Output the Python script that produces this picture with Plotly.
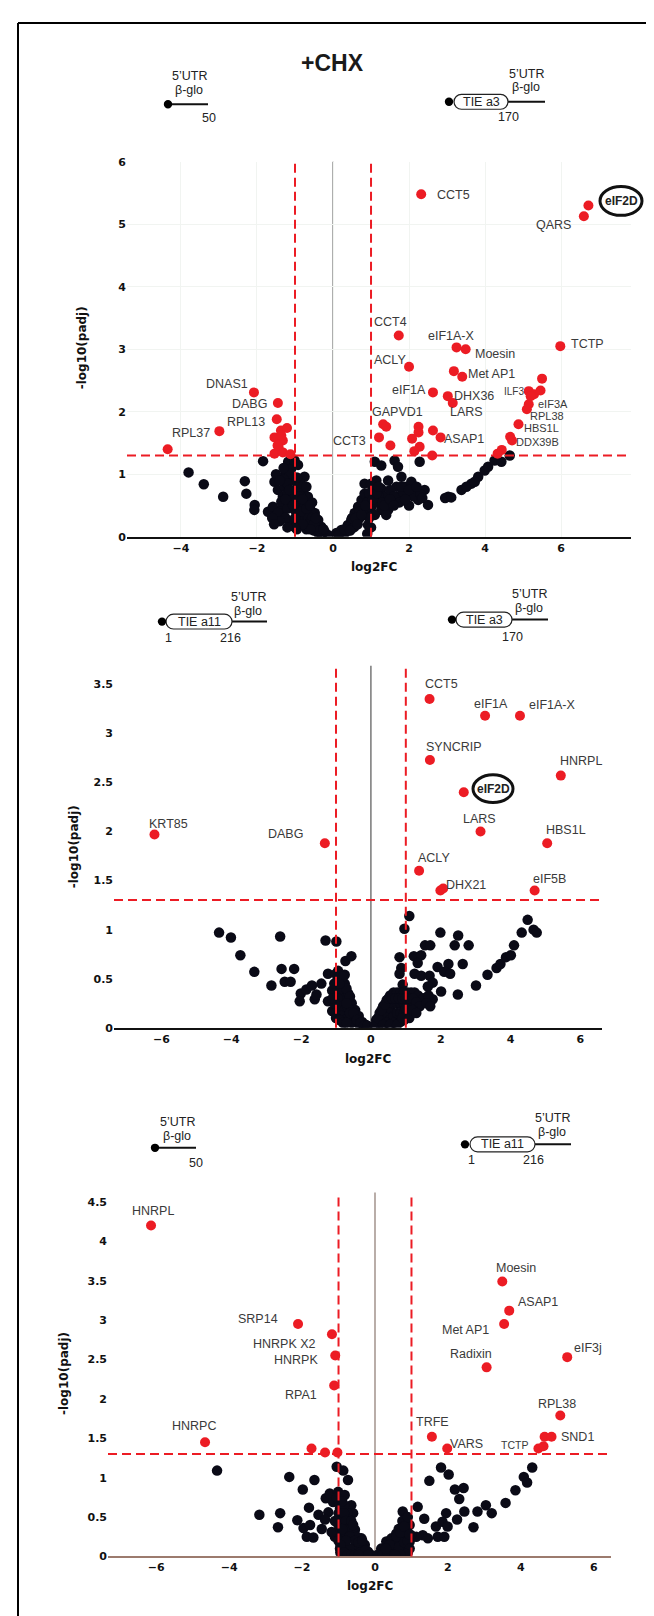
import plotly.graph_objects as go

W, H = 654, 1616

# ---------------- Panel 1 (TIE a3 vs 5'UTR) ----------------
p1_ns_x = [-1.84, -3.80, -3.40, -2.89, -2.32, -2.28, -2.06, -2.07, -1.71,
           -1.54, -1.45, -1.27, -1.32, -1.58, -1.36, -1.18, -1.10, -1.05, -1.01, -1.10,
           -1.01, -0.88, -0.75, -0.79, -0.66, -0.61, -0.48, -0.39, -0.31, -0.22, -0.13,
           -0.39, -0.57, -0.79, -0.92, -0.92, -1.14, -1.27, -1.36, -1.45, -1.14, -1.01,
           -0.85, -0.70, -0.55, -0.95, -0.70, -0.50, -0.30, -0.92, -1.20, -1.05, -0.95,
           -0.85, -0.75, -0.65, -0.55, -0.45, -0.85, -1.20, -1.25, -1.00, -0.70, -1.30,
           -1.20, -1.50, -1.40, -1.30, -1.25, -1.15, -1.05, -0.95, -0.90, -0.80, -0.70,
           -0.60, -0.50, -0.45, -0.35, -0.25, -0.60, -0.80, -1.00, -1.20, -1.40, -1.60,
           -1.55,
           0.09, 0.22, 0.39, 0.48, 0.57, 0.66, 0.75, 0.83, 0.83, 0.92, 0.88, 1.10, 1.27,
           1.14, 1.27, 1.36, 1.27, 1.45, 1.62, 1.71, 1.80, 1.89, 2.06, 2.15, 2.28, 2.24,
           2.41, 2.50, 1.97, 1.71, 1.54, 1.45, 1.01, 0.96, 1.05, 1.67, 1.84, 0.30, 0.55,
           0.70, 0.80, 1.15, 2.00, 1.10, 0.40, 0.60, 0.70, 0.90, 0.95, 1.20, 1.30, 1.50,
           1.60, 1.75, 2.10, 2.30, 1.90, 1.40, 0.15, 0.30, 0.45, 0.50, 0.60, 0.65, 0.75,
           0.85, 0.95, 1.00, 1.05, 1.15, 1.20, 1.35, 1.50, 1.60, 1.80, 2.00, 2.20, 2.35,
           1.00, 0.90,
           3.03, 3.38, 3.64, 3.82, 3.99, 4.08, 4.25, 4.43, 4.65, 3.51, 3.73, 2.95, 3.11]
p1_ns_y = [1.21, 1.03, 0.84, 0.64, 0.89, 0.69, 0.51, 0.43, 0.40,
           0.88, 0.75, 0.98, 0.64, 0.48, 0.43, 1.20, 1.09, 0.90, 0.75, 0.59,
           0.43, 0.53, 0.96, 0.72, 0.64, 0.43, 0.38, 0.27, 0.16, 0.08, 0.03,
           0.06, 0.22, 0.32, 0.27, 0.80, 1.01, 0.80, 0.56, 0.38, 0.22, 1.22,
           0.85, 0.80, 0.55, 0.12, 0.12, 0.10, 0.02, 1.15, 0.70, 0.65, 0.58,
           0.65, 0.50, 0.30, 0.30, 0.20, 0.40, 0.45, 0.30, 0.30, 0.20, 0.92,
           0.85, 1.00, 0.90, 1.10, 0.60, 0.75, 0.50, 0.95, 0.65, 0.60, 0.45,
           0.50, 0.20, 0.30, 0.10, 0.12, 0.12, 0.20, 0.15, 0.15, 0.25, 0.30,
           0.20,
           0.06, 0.11, 0.19, 0.27, 0.38, 0.48, 0.59, 0.69, 0.85, 0.19, 0.43, 1.20, 1.14,
           0.90, 0.77, 0.64, 0.43, 0.90, 1.22, 1.12, 0.96, 0.80, 0.88, 0.75, 1.20, 0.59,
           0.75, 0.51, 0.69, 0.64, 0.53, 0.43, 0.48, 0.61, 0.74, 0.80, 0.72, 0.05, 0.15,
           0.30, 0.35, 0.55, 0.50, 0.35, 0.10, 0.20, 0.40, 0.55, 0.30, 0.65, 0.55, 0.75,
           0.65, 0.55, 0.65, 0.68, 0.60, 0.35, 0.03, 0.12, 0.10, 0.30, 0.30, 0.20, 0.35,
           0.50, 0.70, 0.85, 0.60, 0.70, 0.80, 0.50, 0.60, 0.50, 0.80, 0.75, 0.80, 0.62,
           0.15, 0.05,
           0.64, 0.75, 0.85, 0.96, 1.06, 1.12, 1.22, 1.20, 1.30, 0.80, 0.88, 0.62, 0.63]
p1_sig_x = [-2.08, -1.45, -1.48, -2.99, -4.35, -1.37, -1.21, -1.54, -1.32, -1.43, -1.54,
            -1.32, -1.12, -1.36, -1.46,
            2.32, 6.72, 6.60, 1.73, 3.25, 3.49, 5.98, 2.00, 3.18, 3.40, 5.50, 2.63, 3.02,
            3.15, 5.15, 5.29, 5.46, 5.20, 5.15, 5.10, 4.88, 4.66, 4.71, 4.44, 4.33, 1.32,
            1.40, 1.21, 1.51, 2.25, 2.25, 2.08, 2.28, 2.14, 2.63, 2.83, 2.61]
p1_sig_y = [2.31, 2.14, 1.88, 1.69, 1.40, 1.70, 1.74, 1.59, 1.54, 1.43, 1.33,
            1.35, 1.32, 1.62, 1.46,
            5.48, 5.30, 5.13, 3.22, 3.03, 3.00, 3.05, 2.72, 2.65, 2.56, 2.53, 2.31, 2.25,
            2.14, 2.33, 2.28, 2.34, 2.25, 2.12, 2.04, 1.80, 1.60, 1.54, 1.39, 1.33, 1.80,
            1.76, 1.59, 1.46, 1.76, 1.67, 1.57, 1.44, 1.37, 1.70, 1.59, 1.30]
p1_labels = ["DNAS1", "DABG", "RPL13", "RPL37", "CCT3", "GAPVD1", "ASAP1", "LARS",
             "DHX36", "eIF1A", "Met AP1", "Moesin", "ACLY", "ILF3", "eIF3A", "RPL38",
             "HBS1L", "DDX39B", "CCT5", "QARS", "CCT4", "eIF1A-X", "TCTP"]

# ---------------- Panel 2 (TIE a3 vs TIE a11) ----------------
p2_ns_x = [-4.35, -4.01, -3.74, -3.34, -2.85, -2.60, -2.56, -2.20, -2.47, -2.30, -2.01,
           -2.04, -1.85, -1.69, -1.61, -1.56, -1.42, -1.30, -1.23, -1.23, -1.11, -1.11,
           -0.99, -0.94, -0.75, -0.73, -0.56,
           -0.95, -0.85, -0.75, -0.95, -0.85, -0.75, -0.65, -0.55, -0.45, -0.35, -0.25,
           -0.15, -0.95, -0.95, -0.85, -0.75, -0.65, -0.55, -0.45, -0.35, -0.85, -0.65,
           -0.55, -0.75, -1.05, -1.05,
           -1.00, -0.90, -0.80, -0.70, -0.60, -0.90, -0.70, -0.60, -0.50, -0.40, -0.30,
           -0.20, -0.10, -1.10, -1.00, -0.90, -0.80, -0.70,
           1.10, 0.96, 0.82, 0.87, 0.82, 0.91, 1.23, 1.44, 1.34, 1.25, 1.55, 1.70, 1.44,
           1.68, 1.77, 1.63, 1.91, 1.99, 2.22, 2.10, 2.27, 2.40, 2.50, 2.63, 2.80, 2.01,
           2.49, 1.77, 3.01, 3.34, 3.60, 3.71, 3.87, 4.01, 4.10, 4.32, 4.49, 4.66, 4.75,
           0.15, 0.25, 0.35, 0.45, 0.55, 0.65, 0.75, 0.85, 0.95, 1.05, 1.15, 1.25, 1.35,
           0.35, 0.45, 0.55, 0.65, 0.75, 0.85, 0.95, 1.05, 1.15, 0.55, 0.65, 0.75, 0.85,
           0.95, 1.05, 0.25, 0.45, 0.65, 0.85, 0.95, 1.00, 1.50, 1.65,
           0.10, 0.20, 0.30, 0.40, 0.50, 0.60, 0.70, 0.80, 0.90, 1.00, 1.10, 1.20, 1.30,
           1.40, 0.35, 0.55, 0.75, 0.90, 1.10, 1.20, 1.30, 1.60, 1.70]
p2_ns_y = [0.97, 0.92, 0.74, 0.57, 0.43, 0.93, 0.60, 0.60, 0.47, 0.47, 0.35,
           0.27, 0.39, 0.43, 0.29, 0.34, 0.45, 0.89, 0.27, 0.55, 0.17, 0.38,
           0.88, 0.58, 0.54, 0.68, 0.73,
           0.50, 0.50, 0.45, 0.40, 0.35, 0.30, 0.35, 0.25, 0.18, 0.12, 0.06,
           0.03, 0.30, 0.20, 0.22, 0.18, 0.20, 0.12, 0.08, 0.04, 0.12, 0.10,
           0.05, 0.08, 0.45, 0.25,
           0.55, 0.55, 0.52, 0.40, 0.32, 0.45, 0.25, 0.15, 0.15, 0.08, 0.05,
           0.02, 0.02, 0.30, 0.10, 0.08, 0.05, 0.05,
           1.14, 1.01, 0.72, 0.61, 0.55, 0.44, 0.73, 0.74, 0.66, 0.55, 0.84, 0.84, 0.53,
           0.53, 0.46, 0.42, 0.62, 0.97, 0.65, 0.57, 0.55, 0.84, 0.94, 0.65, 0.84, 0.37,
           0.34, 0.29, 0.43, 0.54, 0.61, 0.65, 0.72, 0.74, 0.84, 0.97, 1.10, 1.00, 0.97,
           0.08, 0.15, 0.22, 0.28, 0.33, 0.36, 0.36, 0.36, 0.36, 0.36, 0.36, 0.36, 0.33,
           0.10, 0.15, 0.20, 0.25, 0.25, 0.25, 0.25, 0.25, 0.25, 0.08, 0.12, 0.15, 0.15,
           0.15, 0.12, 0.04, 0.05, 0.05, 0.06, 0.08, 0.20, 0.30, 0.33,
           0.02, 0.10, 0.18, 0.24, 0.30, 0.30, 0.30, 0.30, 0.30, 0.30, 0.30, 0.30, 0.26,
           0.22, 0.03, 0.03, 0.03, 0.10, 0.10, 0.18, 0.15, 0.25, 0.22]
p2_sig_x = [1.68, 3.27, 4.27, 1.69, 5.44, 2.66, -6.20, -1.32, 3.14, 5.05, 1.38, 1.99,
            2.07, 4.69]
p2_sig_y = [3.35, 3.18, 3.18, 2.73, 2.57, 2.40, 1.97, 1.88, 2.00, 1.88, 1.60, 1.40,
            1.42, 1.40]
p2_labels = ["CCT5", "eIF1A", "eIF1A-X", "SYNCRIP", "HNRPL", "KRT85", "DABG", "LARS",
             "HBS1L", "ACLY", "DHX21", "eIF5B"]

# ---------------- Panel 3 (TIE a11 vs 5'UTR) ----------------
p3_ns_x = [-4.33, -2.35, -1.66, -1.98, -1.05, -0.87, -0.74, -3.17, -2.60, -2.66, -2.13,
           -1.81, -1.55, -1.96, -1.78, -1.87, -1.46, -1.69, -1.35, -1.24, -1.28, -1.37,
           -1.15, -1.01, -0.83, -0.65, -0.60, -0.74, -0.55, -0.37, -0.28, -0.19, -0.92,
           -0.83, -0.65, -0.46, -0.96, -0.96, -0.92, -0.74, -0.51, -0.33, -1.10, -1.19,
           -1.00, -0.95, -0.90, -0.85, -0.95, -0.90, -0.80, -0.70, -0.60, -0.50, -0.40,
           -0.90, -0.80, -0.60, -0.50, -0.75, -0.85, -0.95, -0.30, -0.10,
           -1.05, -1.00, -1.00, -1.00, -0.95, -0.90, -0.85, -0.80, -0.75, -0.70, -0.65,
           -0.60, -0.55, -0.45, -0.40, -0.35, -0.25, -0.20, -0.70, -0.80, -0.90, -1.10,
           -0.95, -0.85, -0.75, -0.65, -0.55, -0.45,
           0.17, 0.31, 0.45, 0.58, 0.70, 0.76, 0.83, 0.85, 0.95, 0.35, 0.54, 0.72, 1.17,
           1.35, 1.31, 1.13, 1.49, 1.67, 1.72, 1.90, 1.81, 2.02, 1.95, 1.85, 1.99, 2.19,
           2.43, 2.31, 2.45, 2.25, 2.70, 2.81, 3.04, 3.20, 3.58, 3.85, 4.08, 4.17, 4.31,
           1.45, 0.99, 0.10, 0.25, 0.40, 0.60, 0.70, 0.80, 0.90, 0.95, 0.90, 0.75, 0.60,
           0.45, 0.85, 0.65, 0.75, 0.90,
           0.20, 0.35, 0.50, 0.50, 0.60, 0.70, 0.65, 0.80, 0.80, 0.90, 0.95, 0.85, 0.70,
           0.55, 0.40, 0.30, 0.95]
p3_ns_y = [1.09, 1.01, 0.97, 0.85, 1.14, 1.09, 0.97, 0.53, 0.55, 0.37, 0.46,
           0.62, 0.53, 0.36, 0.40, 0.25, 0.35, 0.24, 0.74, 0.80, 0.56, 0.47,
           0.69, 0.82, 0.78, 0.65, 0.55, 0.46, 0.34, 0.23, 0.15, 0.06, 0.36,
           0.19, 0.10, 0.06, 0.10, 0.61, 0.69, 0.27, 0.19, 0.10, 0.25, 0.31,
           0.70, 0.60, 0.50, 0.40, 0.35, 0.25, 0.30, 0.35, 0.30, 0.25, 0.15,
           0.15, 0.10, 0.05, 0.10, 0.55, 0.65, 0.05, 0.05, 0.02,
           0.75, 0.55, 0.40, 0.20, 0.45, 0.70, 0.55, 0.45, 0.35, 0.25, 0.45,
           0.40, 0.20, 0.18, 0.05, 0.20, 0.08, 0.02, 0.10, 0.20, 0.35, 0.45,
           0.15, 0.05, 0.02, 0.02, 0.02, 0.02,
           0.10, 0.19, 0.23, 0.29, 0.36, 0.57, 0.48, 0.29, 0.19, 0.10, 0.08, 0.13, 0.63,
           0.48, 0.27, 0.25, 0.96, 0.38, 0.25, 0.25, 1.13, 1.04, 0.55, 0.44, 0.38, 0.85,
           0.87, 0.73, 0.57, 0.47, 0.37, 0.57, 0.65, 0.55, 0.68, 0.84, 1.01, 0.94, 1.13,
           0.23, 0.27, 0.03, 0.06, 0.12, 0.18, 0.22, 0.25, 0.30, 0.40, 0.05, 0.08, 0.06,
           0.04, 0.15, 0.35, 0.45, 0.50,
           0.02, 0.05, 0.08, 0.15, 0.25, 0.30, 0.12, 0.18, 0.38, 0.20, 0.10, 0.03, 0.02,
           0.02, 0.15, 0.10, 0.28]
p3_sig_x = [-6.14, 3.49, 3.68, 3.54, 3.06, 5.27, -2.11, -1.18, -1.09, -1.12, 5.08, 4.65,
            4.84, 4.48, 4.62, 1.56, 1.98, -4.66, -1.74, -1.37, -1.03]
p3_sig_y = [4.20, 3.49, 3.12, 2.95, 2.40, 2.53, 2.95, 2.82, 2.55, 2.17, 1.79, 1.52,
            1.52, 1.37, 1.40, 1.52, 1.37, 1.45, 1.37, 1.32, 1.32]
p3_labels = ["HNRPL", "Moesin", "ASAP1", "Met AP1", "Radixin", "eIF3j", "SRP14",
             "HNRPK X2", "HNRPK", "RPA1", "HNRPC", "TRFE", "VARS", "TCTP", "RPL38", "SND1"]

# ---------------- label placement (data coords) and sizes ----------------
p1_label_pos = [(-2.80, 2.45), (-2.19, 2.13), (-2.30, 1.83), (-3.73, 1.66), (0.44, 1.54),
                (1.70, 1.99), (3.45, 1.57), (3.51, 1.99), (3.71, 2.25), (2.00, 2.35),
                (4.17, 2.60), (4.25, 2.93), (1.51, 2.83), (4.77, 2.32), (5.79, 2.12),
                (5.63, 1.93), (5.48, 1.74), (5.37, 1.51), (3.18, 5.47), (5.79, 4.99),
                (1.51, 3.43), (3.13, 3.22), (6.69, 3.08)]
p1_label_size = [12.5, 12.5, 12.5, 12.5, 12.5, 12.5, 12.5, 12.5, 12.5, 12.5, 12.5, 12.5,
                 12.5, 10, 11, 11, 11, 11, 12.5, 12.5, 12.5, 12.5, 12.5]
p2_label_pos = [(2.01, 3.50), (3.44, 3.30), (5.20, 3.29), (2.37, 2.86), (6.03, 2.72),
                (-5.81, 2.08), (-2.46, 1.97), (3.10, 2.13), (5.58, 2.02), (1.80, 1.73),
                (2.72, 1.46), (5.13, 1.52)]
p3_label_pos = [(-6.08, 4.39), (3.87, 3.66), (4.48, 3.23), (2.49, 2.88), (2.64, 2.57),
                (5.84, 2.65), (-3.21, 3.02), (-2.48, 2.70), (-2.17, 2.49), (-2.03, 2.05),
                (-4.97, 1.66), (1.58, 1.71), (2.52, 1.43), (3.83, 1.41), (4.99, 1.93),
                (5.55, 1.52)]
p3_label_size = [12.5] * 13 + [10.5, 12.5, 12.5]

RED = "#ec1c24"
BLACK = "#0a0a16"
LABEL_FONT = "Liberation Sans, Arial, sans-serif"
AX_FONT = "DejaVu Sans, Verdana, sans-serif"


def PX(x):
    return x / W


def PY(y):
    return 1 - y / H


fig = go.Figure()

panels = [
    dict(ns=(p1_ns_x, p1_ns_y), sig=(p1_sig_x, p1_sig_y), labels=p1_labels,
         pos=p1_label_pos, sizes=p1_label_size, xa="x", ya="y",
         xdom=(119, 623), ydom=(149, 527), xr=(-5.42, 7.84), yr=(0, 6),
         xt=[-4, -2, 0, 2, 4, 6], yt=[0, 1, 2, 3, 4, 5, 6], axcol="#111111",
         zcol="#777777", grid=True),
    dict(ns=(p2_ns_x, p2_ns_y), sig=(p2_sig_x, p2_sig_y), labels=p2_labels,
         pos=p2_label_pos, sizes=[12.5] * len(p2_labels), xa="x2", ya="y2",
         xdom=(106, 594), ydom=(657, 1022), xr=(-7.36, 6.62), yr=(0, 3.69),
         xt=[-6, -4, -2, 0, 2, 4, 6], yt=[0, 0.5, 1, 1.5, 2, 2.5, 3, 3.5],
         axcol="#111111", zcol="#555555", grid=False),
    dict(ns=(p3_ns_x, p3_ns_y), sig=(p3_sig_x, p3_sig_y), labels=p3_labels,
         pos=p3_label_pos, sizes=p3_label_size, xa="x3", ya="y3",
         xdom=(100, 603), ydom=(1188, 1555), xr=(-7.32, 6.47), yr=(0, 4.62),
         xt=[-6, -4, -2, 0, 2, 4, 6], yt=[0, 0.5, 1, 1.5, 2, 2.5, 3, 3.5, 4, 4.5],
         axcol="#9c7b6e", zcol="#8a776f", grid=False),
]

shapes = []
annotations = []
layout_axes = {}

for i, p in enumerate(panels):
    sfx = "" if i == 0 else str(i + 1)
    fig.add_trace(go.Scatter(x=p["ns"][0], y=p["ns"][1], mode="markers",
                             marker=dict(color=BLACK, size=10.5, line=dict(width=0)),
                             xaxis=p["xa"], yaxis=p["ya"], showlegend=False,
                             hoverinfo="skip"))
    fig.add_trace(go.Scatter(x=p["sig"][0], y=p["sig"][1], mode="markers",
                             marker=dict(color=RED, size=10, line=dict(width=0)),
                             xaxis=p["xa"], yaxis=p["ya"], showlegend=False,
                             hoverinfo="skip"))
    layout_axes["xaxis" + sfx] = dict(
        domain=[PX(p["xdom"][0]), PX(p["xdom"][1])], range=list(p["xr"]),
        anchor=p["ya"], tickvals=p["xt"], ticks="", showline=True,
        linecolor=p["axcol"], linewidth=1.5, zeroline=False,
        showgrid=p["grid"], gridcolor="#f1f4f1", gridwidth=1,
        tickfont=dict(family=AX_FONT, size=11, color="#111111", weight="bold"),
        fixedrange=True)
    layout_axes["yaxis" + sfx] = dict(
        domain=[PY(p["ydom"][1]), PY(p["ydom"][0])], range=list(p["yr"]),
        anchor=p["xa"], tickvals=p["yt"], ticks="", showline=False, zeroline=False,
        showgrid=p["grid"], gridcolor="#f1f4f1", gridwidth=1,
        tickfont=dict(family=AX_FONT, size=11, color="#111111", weight="bold"),
        fixedrange=True)
    xd = p["xa"] + " domain"
    yd = p["ya"] + " domain"
    shapes.append(dict(type="line", xref=p["xa"], yref=yd, x0=0, x1=0, y0=0, y1=1,
                       line=dict(color=p["zcol"], width=1.2), layer="below"))
    for xv in (-1, 1):
        shapes.append(dict(type="line", xref=p["xa"], yref=yd, x0=xv, x1=xv, y0=0, y1=1,
                           line=dict(color=RED, width=2, dash="9px,5px"), layer="above"))
    shapes.append(dict(type="line", xref=xd, yref=p["ya"], x0=0, x1=1, y0=1.301, y1=1.301,
                       line=dict(color=RED, width=2, dash="9px,5px"), layer="above"))
    for txt, (lx, ly), fs in zip(p["labels"], p["pos"], p["sizes"]):
        annotations.append(dict(text=txt, x=lx, y=ly, xref=p["xa"], yref=p["ya"],
                                showarrow=False, xanchor="center", yanchor="middle",
                                font=dict(family=LABEL_FONT, size=fs, color="#3a3a3a")))


def ptext(txt, x, y, size=12.5, color="#222222", family=LABEL_FONT, weight="normal",
          angle=0):
    annotations.append(dict(text=txt, x=PX(x), y=PY(y), xref="paper", yref="paper",
                            showarrow=False, xanchor="center", yanchor="middle",
                            textangle=angle, borderpad=0,
                            font=dict(family=family, size=size, color=color,
                                      weight=weight)))


def pline(x0, y0, x1, y1, width=2, color="#111111"):
    shapes.append(dict(type="line", xref="paper", yref="paper", x0=PX(x0), y0=PY(y0),
                       x1=PX(x1), y1=PY(y1), line=dict(color=color, width=width)))


def pdot(x, y, r=4.2):
    shapes.append(dict(type="circle", xref="paper", yref="paper", x0=PX(x - r),
                       x1=PX(x + r), y0=PY(y + r), y1=PY(y - r),
                       fillcolor="#000000", line=dict(width=0)))


def pellipse(x0, y0, x1, y1, width=3):
    shapes.append(dict(type="circle", xref="paper", yref="paper", x0=PX(x0), x1=PX(x1),
                       y0=PY(y1), y1=PY(y0), line=dict(color="#111111", width=width)))


def pbox(x0, y0, x1, y1):
    r = (y1 - y0) / 2.0
    k = 0.5523 * r
    ym = (y0 + y1) / 2.0
    xl, xr = x0 + r, x1 - r
    pts = [
        ("M", [(xl, y0)]), ("L", [(xr, y0)]),
        ("C", [(xr + k, y0), (x1, ym - k), (x1, ym)]),
        ("C", [(x1, ym + k), (xr + k, y1), (xr, y1)]),
        ("L", [(xl, y1)]),
        ("C", [(xl - k, y1), (x0, ym + k), (x0, ym)]),
        ("C", [(x0, ym - k), (xl - k, y0), (xl, y0)]),
    ]
    path = ""
    for cmd, cs in pts:
        path += cmd + " " + " ".join("%.5f,%.5f" % (PX(a), PY(b)) for a, b in cs) + " "
    path += "Z"
    shapes.append(dict(type="path", xref="paper", yref="paper", path=path,
                       fillcolor="white", line=dict(color="#222222", width=1.2)))


def utr_construct(dot_x, y, line_end, label_x, utr_y, glo_y, num, num_x, num_y):
    pline(dot_x, y, line_end, y)
    pdot(dot_x, y)
    ptext("5\u2019UTR", label_x, utr_y, size=12.5)
    ptext("\u03b2-glo", label_x, glo_y, size=12.5)
    ptext(num, num_x, num_y, size=12.5)


def tie_construct(dot_x, bx0, bx1, by0, by1, line_end, name, label_x, utr_y, glo_y,
                  nums):
    ym = (by0 + by1) / 2.0
    pline(bx1, ym, line_end, ym)
    pbox(bx0, by0, bx1, by1)
    pdot(dot_x, ym)
    ptext(name, (bx0 + bx1) / 2.0, ym, size=12.5)
    ptext("5\u2019UTR", label_x, utr_y, size=12.5)
    ptext("\u03b2-glo", label_x, glo_y, size=12.5)
    for t, nx, ny in nums:
        ptext(t, nx, ny, size=12.5)


# outer frame (left and top edges)
pline(10, 9, 654, 9, width=2, color="#000000")
pline(10, 9, 10, 1616, width=2, color="#000000")

# title
ptext("+CHX", 324, 49, size=23, color="#1a1a1a", weight="bold")

# panel 1 constructs
utr_construct(160, 91, 200, 181, 63, 77, "50", 201, 105)
tie_construct(441, 446, 500, 81, 96, 537, "TIE a3", 518, 60, 74,
              [("170", 500, 104)])
# panel 2 constructs
tie_construct(154, 158, 224, 605, 620, 259, "TIE a11", 240, 588, 602,
              [("1", 160, 629), ("216", 222, 629)])
tie_construct(444, 448, 504, 603, 618, 540, "TIE a3", 521, 585, 599,
              [("170", 504, 628)])
# panel 3 constructs
utr_construct(147, 1143, 188, 169, 1117, 1131, "50", 188, 1158)
tie_construct(457, 462, 527, 1132, 1147, 563, "TIE a11", 544, 1113, 1127,
              [("1", 463, 1155), ("216", 525, 1155)])

# eIF2D highlight
pellipse(592, 174, 634, 203)
ptext("eIF2D", 613, 189, size=12, color="#222222", weight="bold")
pellipse(465, 767, 505, 795)
ptext("eIF2D", 485, 781, size=12, color="#222222", weight="bold")

# axis titles
for (tx, ty) in [(366, 557), (360, 1053), (362, 1585)]:
    ptext("log2FC", tx, ty, size=12, color="#111111", family=AX_FONT, weight="bold")
for (tx, ty) in [(74, 337), (66, 840), (56, 1371)]:
    ptext("-log10(padj)", tx, ty, size=12, color="#111111", family=AX_FONT,
          weight="bold", angle=-90)

fig.update_layout(width=W, height=H, margin=dict(l=0, r=0, t=0, b=0),
                  paper_bgcolor="white", plot_bgcolor="white", showlegend=False,
                  shapes=shapes, annotations=annotations, **layout_axes)

fig.write_html("out.html")
